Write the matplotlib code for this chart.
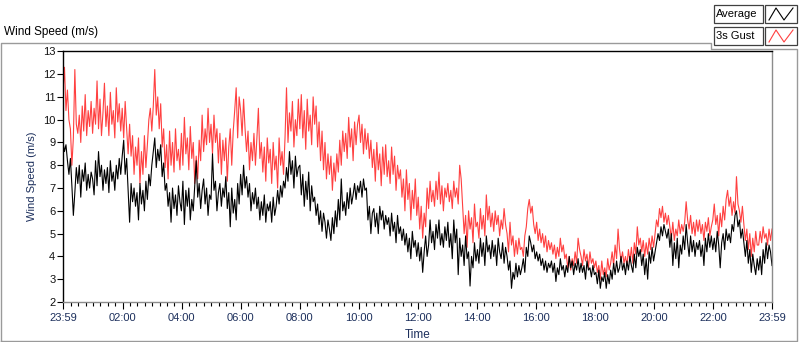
import numpy as np
import matplotlib
matplotlib.use("Agg")
import matplotlib.pyplot as plt
from matplotlib.lines import Line2D
from matplotlib.patches import Rectangle

plt.rcParams['font.family'] = ['Liberation Sans', 'DejaVu Sans']

# ---- data (3-minute samples starting 23:59) ----
average = [
    9.0, 8.6, 8.9, 8.2, 7.6, 8.3, 7.1, 5.8, 6.8, 7.9,
    7.2, 8.0, 6.6, 7.8, 7.3, 8.1, 6.9, 7.6, 7.0, 7.7,
    7.4, 6.7, 8.2, 7.1, 8.6, 7.5, 8.0, 6.9, 7.8, 7.2,
    7.9, 6.8, 8.2, 7.3, 7.7, 6.9, 8.0, 7.4, 8.3, 7.6,
    8.4, 9.1, 7.6, 8.3, 6.9, 5.5, 7.2, 6.4, 7.0, 6.2,
    6.8, 5.6, 7.2, 6.3, 6.9, 6.0, 7.3, 6.5, 7.6, 7.1,
    8.0, 8.6, 9.2, 7.9, 8.7, 8.2, 8.9, 7.5, 8.1, 6.9,
    7.2, 6.2, 6.8, 5.5, 7.0, 6.1, 6.7, 5.8, 7.1, 6.4,
    6.0, 7.3, 5.4, 6.9, 6.2, 7.0, 5.6, 6.5, 6.0, 7.1,
    8.2, 6.6, 7.2, 6.1, 6.9, 7.4, 6.3, 7.0, 5.8, 6.7,
    6.5, 8.5, 6.9, 7.3, 6.0, 6.8, 7.2, 6.2, 7.0, 6.6,
    7.5, 6.1, 6.8, 5.3, 7.0, 5.9, 6.5, 5.6, 7.2, 6.3,
    7.6, 6.7, 8.0, 7.0, 7.5, 6.6, 7.2, 6.0, 6.8, 6.3,
    7.0, 6.1, 6.6, 5.6, 6.4, 5.8, 6.7, 5.5, 6.3, 6.0,
    6.4, 5.5, 6.6, 5.8, 6.2, 6.9, 6.3, 7.1, 6.6, 7.3,
    7.0, 7.9, 7.3, 8.6, 7.6, 8.2, 7.0, 8.4, 7.5, 7.9,
    8.0, 6.7, 7.6, 6.2, 7.3, 6.5, 7.7, 6.0, 7.1, 6.4,
    6.6, 5.8, 6.3, 5.4, 6.0, 5.1, 5.9, 5.5, 4.8, 5.6,
    5.2, 4.7, 5.7, 5.0, 6.0, 5.3, 6.5, 5.6, 7.4, 6.0,
    6.4, 5.8, 6.8, 6.1, 7.0, 6.3, 6.7, 7.2, 6.5, 7.1,
    6.8, 7.3, 6.6, 7.4, 6.9, 7.0, 5.6, 6.2, 5.0, 5.9,
    6.1, 5.3, 5.9, 5.0, 6.2, 5.6, 6.0, 5.2, 5.8, 5.4,
    5.7, 4.9, 5.9, 5.1, 5.5, 4.6, 5.8, 5.0, 5.3, 4.7,
    5.2, 4.5, 5.0, 4.2, 4.8, 3.9, 5.1, 4.4, 4.7, 4.0,
    4.6, 3.8, 4.4, 3.3, 4.2, 4.9, 4.0, 4.5, 5.6, 4.6,
    5.1, 4.3, 5.4, 4.8, 5.6, 4.5, 5.0, 4.4, 5.3, 4.7,
    5.5, 4.4, 5.0, 3.9, 5.6, 4.6, 5.2, 3.2, 4.8, 4.0,
    4.5, 3.6, 4.9, 3.9, 4.2, 2.7, 4.0, 3.5, 4.6, 3.8,
    4.3, 3.7, 4.8, 4.0, 4.6, 3.6, 4.9, 4.2, 4.5, 3.9,
    4.7, 4.0, 4.5, 3.6, 4.8, 4.2, 3.9, 4.6, 3.7, 4.4,
    4.0, 3.4, 3.8, 2.6, 3.3, 3.0, 3.7, 3.1, 3.6, 3.2,
    3.5, 3.9, 3.3, 4.4, 4.0, 4.9, 4.6, 4.2, 4.5, 3.9,
    4.2, 3.8, 4.1, 3.6, 3.9, 3.4, 3.8, 3.3, 3.7, 3.5,
    3.8, 3.3, 3.7, 2.9, 3.5, 3.2, 3.9, 3.4, 3.6, 3.1,
    3.6, 3.3, 4.0, 3.5, 3.8, 3.2, 3.7, 3.4, 3.9, 3.3,
    3.7, 3.3, 3.6, 3.0, 3.8, 3.4, 3.5, 3.1, 3.6, 3.2,
    3.3, 2.8, 3.4, 2.6, 3.1, 2.9, 3.3, 2.6, 3.2, 2.8,
    3.4, 3.0, 3.7, 3.2, 3.8, 3.3, 3.5, 4.0, 3.4, 3.7,
    3.2, 3.8, 3.4, 4.0, 3.6, 3.3, 4.1, 3.5, 4.4, 4.0,
    4.3, 3.6, 4.1, 3.2, 3.9, 3.0, 4.2, 3.7, 4.4, 3.8,
    4.2, 4.6, 5.0, 4.7, 5.3, 4.9, 5.4, 5.1, 4.8, 5.2,
    4.4, 5.0, 3.6, 4.6, 3.9, 4.8, 3.5, 4.5, 4.1, 4.9,
    4.3, 5.4, 4.6, 4.0, 4.9, 4.2, 4.7, 4.0, 4.6, 4.3,
    4.7, 4.0, 4.5, 3.6, 4.8, 4.2, 5.0, 4.4, 4.9, 4.3,
    4.8, 4.2, 5.1, 4.5, 3.5, 4.6, 5.0, 4.3, 5.2, 4.7,
    5.0, 4.6, 5.4, 5.1, 5.8, 6.0, 5.3, 5.6, 4.8, 5.2,
    4.6, 4.0, 4.7, 3.7, 4.3, 3.3, 4.1, 3.6, 3.2, 3.9,
    3.4, 4.0, 3.2, 4.3, 3.7, 4.6, 3.9, 4.5, 4.2, 3.6,
]
gust = [
    11.2, 12.3, 10.4, 11.3, 10.0, 9.6, 8.0, 9.2, 12.2, 9.8,
    9.4, 10.2, 9.0, 10.6, 9.5, 11.1, 9.3, 10.4, 9.7, 10.8,
    9.4, 10.5, 9.8, 11.7, 9.6, 10.9, 9.3, 10.3, 11.6, 9.7,
    10.6, 9.3, 11.2, 9.8, 10.4, 9.2, 11.4, 9.9, 10.7, 9.5,
    10.5, 9.2, 10.8, 9.6, 8.5, 9.8, 8.4, 9.3, 7.6, 8.8,
    8.0, 9.2, 7.2, 8.6, 7.6, 9.3, 7.9, 8.9, 10.0, 10.5,
    9.5, 10.6, 12.2, 10.2, 11.0, 9.6, 10.7, 8.8, 9.6, 7.9,
    8.9, 7.4, 9.5, 8.0, 9.0, 7.7, 9.6, 8.2, 8.7, 7.8,
    9.4, 8.0, 10.1, 8.5, 9.2, 7.8, 9.7, 8.3, 9.0, 7.2,
    8.4, 7.4, 9.1, 8.2, 10.2, 8.6, 9.6, 8.9, 10.5, 9.0,
    9.8, 8.5, 10.2, 9.0, 9.6, 8.1, 9.4, 7.6, 9.1, 8.2,
    9.2, 7.3, 8.8, 9.6, 8.0, 9.5, 10.4, 11.4, 9.2, 11.0,
    10.4, 9.3, 10.9, 9.6, 8.6, 9.5, 7.8, 9.0, 8.2, 9.4,
    8.0, 9.2, 10.5, 8.3, 9.0, 7.7, 8.8, 7.3, 9.2, 8.1,
    8.7, 7.2, 9.0, 7.8, 8.4, 7.0, 9.2, 8.0, 8.6, 7.6,
    9.2, 11.4, 9.0, 10.3, 9.5, 10.8, 8.8, 10.0, 9.3, 10.9,
    9.6, 11.1, 9.2, 10.4, 8.7, 10.9, 9.5, 10.2, 8.9, 11.0,
    9.8, 10.6, 8.8, 9.9, 8.2, 9.5, 7.8, 9.0, 7.4, 8.5,
    7.6, 8.4, 6.9, 8.1, 7.3, 8.5, 7.7, 9.1, 8.0, 9.5,
    8.6, 9.4, 8.3, 10.1, 8.8, 9.6, 8.2, 9.9, 8.9, 9.8,
    10.2, 9.0, 9.8, 8.5, 9.6, 8.7, 9.4, 8.3, 9.1, 7.9,
    8.7, 7.3, 9.0, 7.8, 8.5, 7.1, 8.8, 7.6, 8.9, 7.5,
    8.2, 7.2, 8.8, 7.6, 8.4, 6.9, 8.0, 7.4, 7.8, 6.6,
    7.4, 6.0, 7.8, 6.5, 7.2, 5.6, 6.9, 6.1, 7.4, 5.8,
    6.6, 5.2, 6.2, 4.8, 5.9, 5.3, 7.0, 6.1, 7.3, 6.4,
    6.9, 6.2, 7.3, 6.5, 7.7, 6.3, 7.1, 6.0, 7.0, 6.6,
    7.2, 6.4, 6.9, 6.1, 7.3, 6.6, 7.0, 6.3, 8.0, 7.4,
    6.2, 5.0, 5.8, 4.4, 6.0, 5.2, 5.7, 4.6, 6.3, 5.3,
    5.5, 4.8, 6.1, 5.2, 5.8, 4.9, 6.7, 5.6, 6.2, 5.3,
    5.9, 5.1, 6.0, 5.4, 5.8, 4.9, 5.6, 5.2, 6.1, 5.4,
    5.0, 4.2, 5.5, 4.5, 4.9, 4.0, 4.7, 4.1, 4.8, 4.3,
    4.4, 4.0, 4.9, 5.3, 6.1, 6.5, 5.9, 6.2, 5.4, 5.0,
    5.5, 4.7, 5.2, 4.6, 5.0, 4.4, 4.9, 4.2, 4.7, 4.3,
    4.6, 4.1, 4.5, 3.9, 4.4, 4.0, 4.8, 4.2, 4.5, 3.9,
    4.1, 3.5, 4.0, 3.4, 3.9, 3.6, 4.2, 3.7, 4.8, 4.3,
    4.0, 3.6, 4.3, 3.8, 4.1, 3.5, 4.2, 3.7, 3.9, 3.5,
    3.8, 3.3, 3.6, 3.0, 3.8, 3.2, 3.5, 3.1, 3.9, 3.4,
    3.7, 4.2, 3.6, 4.5, 3.9, 5.2, 4.3, 3.8, 4.2, 3.7,
    4.0, 3.6, 4.3, 3.8, 4.4, 3.7, 4.6, 4.1, 5.3, 4.5,
    4.8, 4.2, 4.7, 4.0, 4.6, 4.1, 4.8, 4.3, 4.9, 4.4,
    5.0, 5.6, 5.3, 6.1, 5.7, 6.2, 5.5, 5.9, 5.4, 5.8,
    5.3, 4.8, 5.5, 4.7, 5.2, 4.9, 5.6, 5.0, 5.4, 5.1,
    5.5, 6.4, 5.6, 5.2, 5.8, 5.0, 5.5, 4.9, 5.6, 5.1,
    5.6, 5.0, 5.4, 4.7, 5.5, 5.1, 5.7, 4.9, 5.3, 5.6,
    6.3, 5.4, 5.8, 4.9, 5.9, 5.3, 6.2, 5.6, 6.5, 6.9,
    6.2, 6.6, 5.8, 6.4, 5.9, 7.5, 6.3, 6.0, 5.5, 6.2,
    5.4, 4.7, 5.2, 4.3, 5.0, 4.0, 4.8, 4.2, 5.1, 4.5,
    4.5, 5.1, 4.6, 5.3, 4.8, 5.0, 4.5, 5.2, 4.7, 5.2,
]
minutes = np.linspace(0, 1440, len(average))
tick_labels = ["23:59", "02:00", "04:00", "06:00", "08:00", "10:00", "12:00",
               "14:00", "16:00", "18:00", "20:00", "22:00", "23:59"]
tick_minutes = [0, 121, 241, 361, 481, 601, 721, 841, 961, 1081, 1201, 1321, 1440]
series_names = ["Average", "3s Gust"]
series_colors = ["#000000", "#ff4040"]

W, H = 800, 342
fig = plt.figure(figsize=(W / 100, H / 100), dpi=100)

def fx(px):
    return px / W

def fy(py):
    return 1 - py / H

L, R, T, B = 63, 772, 51.3, 302
ax = fig.add_axes([fx(L), fy(B), fx(R) - fx(L), fy(T) - fy(B)])
ax.plot(minutes, gust, color=series_colors[1], lw=0.8)
ax.plot(minutes, average, color=series_colors[0], lw=0.8)
ax.set_xlim(0, 1440)
ax.set_ylim(2, 13)
ax.set_yticks(range(2, 14))
ax.set_xticks(tick_minutes)
ax.set_xticklabels(tick_labels)
minor = [1 + 15 * k for k in range(1, 96) if (1 + 15 * k) not in tick_minutes and 1 + 15 * k < 1440]
ax.set_xticks(minor, minor=True)
ax.tick_params(axis='y', direction='out', length=4, width=0.8, labelsize=8,
               labelcolor='#111111', pad=1.5)
ax.tick_params(axis='x', which='major', direction='out', length=5, width=0.8,
               labelsize=8, labelcolor='#1c2f5c', pad=3)
ax.tick_params(axis='x', which='minor', direction='out', length=3, width=0.8)
for s in ['top', 'left']:
    ax.spines[s].set_color('black')
    ax.spines[s].set_linewidth(1.0)
for s in ['right', 'bottom']:
    ax.spines[s].set_color('#8c8c8c')
    ax.spines[s].set_linewidth(1.0)
ax.set_ylabel("Wind Speed (m/s)", fontsize=8, color='#1c2f5c', labelpad=4)
ax.set_xlabel("Time", fontsize=8.5, color='#1c2f5c', labelpad=4)

# title
fig.text(fx(4), fy(32), "Wind Speed (m/s)", fontsize=8.5, color='black', va='center', ha='left')

# outer gray frame
gray = '#9a9a9a'
frame_pts = [(1, 341), (1, 42.5), (711, 42.5), (711, 48.5), (797, 48.5), (797, 341), (1, 341)]
fig.add_artist(Line2D([fx(p[0]) for p in frame_pts], [fy(p[1]) for p in frame_pts],
                      color=gray, lw=1.0, transform=fig.transFigure))

# legend boxes
rows = [(5, 23), (27, 45)]
for (y0, y1), name, col in zip(rows, series_names, series_colors):
    fig.add_artist(Rectangle((fx(714), fy(y1)), fx(763) - fx(714), fy(y0) - fy(y1),
                             transform=fig.transFigure, facecolor='white',
                             edgecolor='#404040', lw=0.9))
    fig.text(fx(716), fy((y0 + y1) / 2), name, fontsize=8, color='black',
             va='center', ha='left')
    fig.add_artist(Rectangle((fx(765), fy(y1)), fx(797) - fx(765), fy(y0) - fy(y1),
                             transform=fig.transFigure, facecolor='white',
                             edgecolor='#404040', lw=0.9))
    zx = [769, 776, 784, 793]
    zy = [y1 - 3, y0 + 3, y1 - 3, y0 + 3]
    fig.add_artist(Line2D([fx(v) for v in zx], [fy(v) for v in zy], color=col,
                          lw=0.8, transform=fig.transFigure))

fig.savefig("out.png", dpi=100)
